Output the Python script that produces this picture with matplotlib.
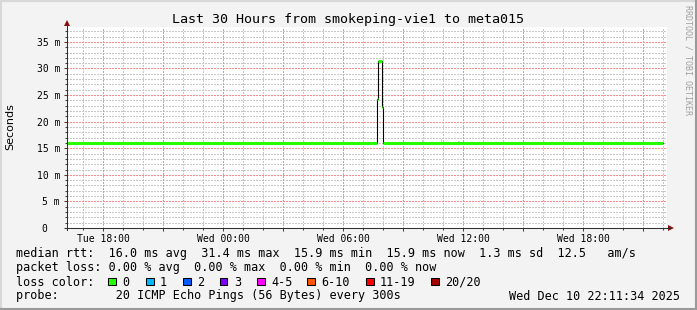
import matplotlib
matplotlib.use("Agg")
import matplotlib.pyplot as plt
import matplotlib.dates as mdates
from matplotlib.patches import Polygon, Rectangle
from matplotlib.lines import Line2D
from matplotlib.ticker import MultipleLocator, FuncFormatter
from datetime import datetime

# ── Data ─────────────────────────────────────────────────────────────────────────
START = datetime(2025, 12, 9, 16, 11, 34)
END   = datetime(2025, 12, 10, 22, 11, 34)

median_times = ["2025-12-09 16:12", "2025-12-10 07:41", "2025-12-10 07:44",
                "2025-12-10 07:58", "2025-12-10 08:00", "2025-12-10 22:00"]
median_ms    = [15.9, 24.2, 31.4, 22.8, 15.9, 15.9]

smoke_times = ["2025-12-10 10:00", "2025-12-10 10:56", "2025-12-10 11:48"]
smoke_lo    = [15.9, 15.9, 15.9]
smoke_hi    = [16.5, 16.7, 16.4]

loss_labels = ["0", "1", "2", "3", "4-5", "6-10", "11-19", "20/20"]
loss_colors = ["#26ff00", "#00b8ff", "#0059ff", "#7e00ff",
               "#ff00ff", "#ff5500", "#ff0000", "#a00000"]

title      = "Last 30 Hours from smokeping-vie1 to meta015"
rtt_line   = "median rtt:  16.0 ms avg  31.4 ms max  15.9 ms min  15.9 ms now  1.3 ms sd  12.5   am/s"
loss_line  = "packet loss: 0.00 % avg  0.00 % max  0.00 % min  0.00 % now"
probe_line = "probe:        20 ICMP Echo Pings (56 Bytes) every 300s"
stamp      = "Wed Dec 10 22:11:34 2025"

# ── Layout helpers (pixels, origin top-left) ─────────────────────────────────────
W, H = 697, 310
MONO = "DejaVu Sans Mono"
PX = 0.72  # one pixel in points at dpi 100

def fx(x):
    return x / W

def fy(y):
    return 1 - y / H

fig = plt.figure(figsize=(W / 100, H / 100), dpi=100, facecolor="#f3f3f3")
ax = fig.add_axes([fx(67), fy(228), 600 / W, 201 / H])
ax.set_facecolor("white")

t = [mdates.date2num(datetime.strptime(s, "%Y-%m-%d %H:%M")) for s in median_times]
ts = [mdates.date2num(datetime.strptime(s, "%Y-%m-%d %H:%M")) for s in smoke_times]

ax.set_xlim(mdates.date2num(START), mdates.date2num(END))
ax.set_ylim(0, 37.8)

# ticks
ax.xaxis.set_major_locator(mdates.HourLocator(byhour=range(0, 24, 3)))
ax.xaxis.set_minor_locator(mdates.HourLocator())
def xfmt(v, pos):
    d = mdates.num2date(v)
    return d.strftime("%a %H:%M") if d.hour % 6 == 0 else ""
ax.xaxis.set_major_formatter(FuncFormatter(xfmt))
ax.yaxis.set_major_locator(MultipleLocator(5))
ax.yaxis.set_minor_locator(MultipleLocator(1))
ax.yaxis.set_major_formatter(FuncFormatter(lambda v, p: "0  " if v == 0 else f"{v:.0f} m"))

# grid: grey every hour / 1 ms, red every 3 hours / 5 ms (crisp 2px-on 2px-off dots)
grid_kw = dict(ls=(0, (2, 2)), lw=PX, antialiased=False)
for v in ax.xaxis.get_minorticklocs():
    ax.axvline(v, color="#c8c8c8", zorder=1, **grid_kw)
for v in ax.yaxis.get_minorticklocs():
    if 0 < v < 37.8:
        ax.axhline(v, color="#c8c8c8", zorder=1, **grid_kw)
for v in ax.xaxis.get_majorticklocs():
    ax.axvline(v, color="#ff8c8c", zorder=1.1, **grid_kw)
for v in ax.yaxis.get_majorticklocs():
    if 0 < v < 37.8:
        ax.axhline(v, color="#ff8c8c", zorder=1.1, **grid_kw)

# smoke
for x, lo, hi in zip(ts, smoke_lo, smoke_hi):
    ax.bar(x, hi - lo, bottom=lo, width=4 / 1440, color="#d0d0d0", lw=0, zorder=2)

# median: black connecting steps, green (0 % loss) plateaus
ax.step(t, median_ms, where="post", color="black", lw=0.8, zorder=3)
for i in range(len(t) - 1):
    ax.hlines(median_ms[i], t[i], t[i + 1], color=loss_colors[0], lw=2.2, zorder=4)

for s in ax.spines.values():
    s.set_visible(False)
ax.tick_params(which="major", length=2.5, width=0.75, color="#404040", direction="out")
ax.tick_params(which="minor", length=1.2, width=0.75, color="#404040", direction="out")
ax.tick_params(axis="x", which="major", pad=1.5, labelsize=7)
ax.tick_params(axis="y", which="major", pad=2.5, labelsize=7)
for lab in ax.get_xticklabels() + ax.get_yticklabels():
    lab.set_family(MONO)

# axis lines with arrows
fig.add_artist(Line2D([fx(65), fx(670)], [fy(228), fy(228)], color="#303030", lw=0.75))
fig.add_artist(Line2D([fx(67), fx(67)], [fy(230), fy(23)], color="#303030", lw=0.75))
fig.add_artist(Polygon([[fx(668), fy(225)], [fx(668), fy(231)], [fx(674), fy(228)]],
                       closed=True, color="#8b1010", lw=0))
fig.add_artist(Polygon([[fx(64), fy(26)], [fx(70), fy(26)], [fx(67), fy(20)]],
                       closed=True, color="#8b1010", lw=0))

# texts
fig.text(fx(348.5), fy(19), title, family=MONO, fontsize=9.6, ha="center", va="center")
fig.text(fx(10), fy(127), "Seconds", fontsize=8, rotation=90, ha="center", va="center")
fig.text(fx(688), fy(5), "RRDTOOL / TOBI OETIKER", family=MONO, fontsize=6.0,
         color="#a0a0a0", rotation=-90, ha="center", va="top")

fs = 8.5
fig.text(fx(16), fy(254), rtt_line, family=MONO, fontsize=fs, va="center")
fig.text(fx(16), fy(268), loss_line, family=MONO, fontsize=fs, va="center")
fig.text(fx(16), fy(282), "loss color:", family=MONO, fontsize=fs, va="center")
fig.text(fx(16), fy(296), probe_line, family=MONO, fontsize=fs, va="center")
fig.text(fx(680), fy(296), stamp, family=MONO, fontsize=fs, va="center", ha="right")

swatch_x = [108, 146, 183, 220, 257, 307, 366, 431]
for x, lab, c in zip(swatch_x, loss_labels, loss_colors):
    fig.add_artist(Rectangle((fx(x), fy(285)), 7.5 / W, 7.5 / H, facecolor=c,
                             edgecolor="black", lw=0.75))
    fig.text(fx(x + 14), fy(282), lab, family=MONO, fontsize=fs, va="center")

# frame
fig.add_artist(Line2D([0, 1], [fy(0.5), fy(0.5)], color="#d8d8d8", lw=1.5))
fig.add_artist(Line2D([fx(0.5), fx(0.5)], [0, 1], color="#d8d8d8", lw=1.5))
fig.add_artist(Line2D([0, 1], [fy(309), fy(309)], color="#9a9a9a", lw=1.5))
fig.add_artist(Line2D([fx(696), fx(696)], [0, 1], color="#9a9a9a", lw=1.5))

fig.savefig("out.png", dpi=100, facecolor=fig.get_facecolor())
plt.close(fig)
